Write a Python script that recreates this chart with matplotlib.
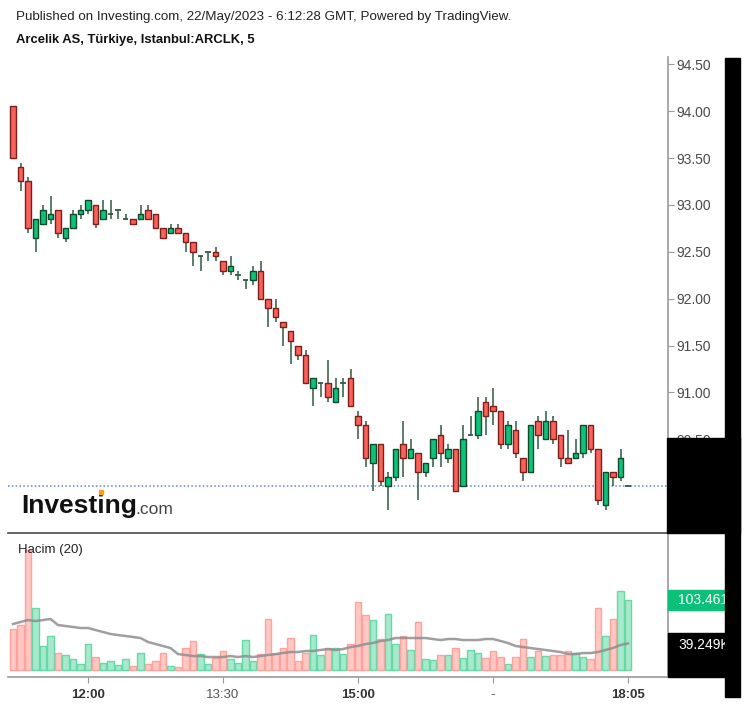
import numpy as np
import matplotlib.pyplot as plt
from matplotlib.patches import Rectangle

plt.rcParams['font.family'] = ['Liberation Sans', 'DejaVu Sans']

W, H = 747, 707

# 5-minute candles, ARCLK, 11:10 .. 18:05
opens = [94.05, 93.40, 93.25, 92.65, 92.80, 92.85, 92.95, 92.65, 92.75, 92.90,
         92.95, 93.00, 92.85, 92.90, 92.95, 92.85, 92.85, 92.85, 92.95, 92.90,
         92.75, 92.70, 92.75, 92.70, 92.60, 92.45, 92.50, 92.50, 92.40, 92.30,
         92.25, 92.20, 92.20, 92.30, 92.00, 91.90, 91.75, 91.65, 91.50, 91.40,
         91.05, 91.10, 91.10, 90.90, 91.10, 91.15, 90.75, 90.65, 90.25, 90.45,
         90.00, 90.10, 90.45, 90.30, 90.35, 90.15, 90.30, 90.55, 90.30, 90.40,
         90.00, 90.55, 90.55, 90.90, 90.85, 90.80, 90.45, 90.60, 90.30, 90.15,
         90.70, 90.50, 90.70, 90.55, 90.30, 90.30, 90.35, 90.65, 90.40, 89.80,
         90.15, 90.10, 90.00]
highs = [94.05, 93.45, 93.30, 92.85, 93.00, 93.10, 92.95, 92.75, 92.95, 93.00,
         93.05, 93.00, 93.05, 93.05, 92.95, 92.90, 92.85, 93.00, 93.00, 92.90,
         92.75, 92.80, 92.80, 92.70, 92.60, 92.45, 92.50, 92.55, 92.40, 92.45,
         92.30, 92.20, 92.35, 92.40, 92.00, 92.00, 91.75, 91.65, 91.50, 91.45,
         91.15, 91.10, 91.35, 91.15, 91.15, 91.25, 90.80, 90.70, 90.45, 90.45,
         90.15, 90.40, 90.70, 90.50, 90.35, 90.25, 90.50, 90.65, 90.45, 90.40,
         90.65, 90.75, 90.95, 90.95, 91.05, 90.80, 90.70, 90.70, 90.30, 90.65,
         90.75, 90.80, 90.75, 90.55, 90.60, 90.50, 90.65, 90.65, 90.40, 90.15,
         90.15, 90.40, 90.00]
lows = [93.50, 93.15, 92.70, 92.50, 92.80, 92.80, 92.65, 92.60, 92.75, 92.85,
        92.90, 92.75, 92.85, 92.85, 92.85, 92.85, 92.80, 92.85, 92.85, 92.75,
        92.65, 92.70, 92.70, 92.50, 92.35, 92.30, 92.40, 92.40, 92.25, 92.25,
        92.20, 92.10, 92.15, 92.00, 91.70, 91.75, 91.50, 91.30, 91.35, 91.10,
        90.85, 90.95, 90.90, 90.90, 90.95, 90.85, 90.50, 90.20, 89.95, 90.00,
        89.75, 90.05, 90.10, 90.30, 89.85, 90.10, 90.20, 90.20, 90.25, 89.95,
        90.00, 90.55, 90.50, 90.55, 90.65, 90.40, 90.40, 90.30, 90.05, 90.15,
        90.40, 90.50, 90.45, 90.20, 90.25, 90.30, 90.30, 90.35, 89.80, 89.75,
        90.00, 90.05, 90.00]
closes = [93.50, 93.25, 92.75, 92.85, 92.95, 92.90, 92.70, 92.75, 92.90, 92.95,
          93.05, 92.80, 92.95, 92.90, 92.95, 92.85, 92.80, 92.90, 92.85, 92.75,
          92.65, 92.75, 92.70, 92.60, 92.50, 92.45, 92.50, 92.45, 92.30, 92.35,
          92.25, 92.20, 92.30, 92.00, 91.90, 91.80, 91.70, 91.55, 91.40, 91.10,
          91.15, 91.10, 90.95, 91.05, 91.10, 90.85, 90.65, 90.30, 90.45, 90.05,
          90.10, 90.40, 90.30, 90.40, 90.15, 90.25, 90.50, 90.35, 90.40, 89.95,
          90.50, 90.55, 90.80, 90.75, 90.80, 90.45, 90.65, 90.35, 90.15, 90.65,
          90.55, 90.70, 90.50, 90.30, 90.25, 90.35, 90.65, 90.40, 89.85, 90.15,
          90.10, 90.30, 90.00]
# volume, thousands
volumes = [60.6, 66.5, 177.4, 91.6, 35.5, 50.3, 25.1, 22.2, 16.3, 8.9,
           38.4, 19.2, 10.3, 13.3, 7.4, 16.3, 5.9, 25.1, 8.9, 13.3,
           25.1, 5.9, 4.4, 32.5, 42.9, 23.6, 8.9, 17.7, 28.1, 16.3,
           10.3, 44.3, 13.3, 23.6, 75.4, 23.6, 32.5, 47.3, 13.3, 25.1,
           51.7, 22.2, 32.5, 32.5, 23.6, 38.4, 100.5, 81.3, 73.9, 45.8,
           82.8, 38.4, 50.3, 29.6, 70.9, 16.3, 14.8, 22.2, 22.2, 32.5,
           17.7, 29.6, 25.1, 17.7, 28.1, 19.2, 8.9, 19.2, 45.8, 19.2,
           28.1, 20.7, 22.2, 22.2, 28.1, 25.1, 19.2, 16.3, 91.6, 50.3,
           75.4, 116.8, 103.5]
# 20-period volume average, thousands
vol_ma = [68.0, 70.9, 73.9, 72.4, 73.9, 75.4, 66.5, 65.0, 63.6, 62.1,
          62.1, 59.1, 56.2, 53.2, 51.7, 50.3, 48.8, 47.3, 41.4, 38.4,
          35.5, 32.5, 23.6, 22.2, 20.7, 20.7, 19.2, 19.2, 19.2, 20.7,
          19.2, 20.7, 19.2, 20.7, 22.2, 23.6, 25.1, 26.6, 26.6, 28.1,
          28.1, 29.6, 31.0, 29.6, 31.0, 34.0, 35.5, 38.4, 39.9, 42.9,
          44.3, 47.3, 47.3, 47.3, 47.3, 47.3, 45.8, 44.3, 45.8, 45.8,
          44.3, 44.3, 44.3, 45.8, 45.8, 42.9, 39.9, 35.5, 34.0, 32.5,
          31.0, 29.6, 28.1, 26.6, 23.6, 23.6, 25.1, 25.1, 26.6, 29.6,
          32.5, 37.0, 39.25]

price_ticks = [94.5, 94.0, 93.5, 93.0, 92.5, 92.0, 91.5, 91.0, 90.5]
tick_pos = [10, 28, 46, 64, 82]
tick_labels = ['12:00', '13:30', '15:00', '-', '18:05']
tick_bold = [True, False, True, False, True]
last_price = 90.00
last_vol_label = '103.461K'
last_ma_label = '39.249K'

UP, DOWN = '#0fc27b', '#f9625a'
UP_EDGE, DOWN_EDGE = '#0c4a2a', '#7a1f1a'
WICK = '#2f5a40'
VUP, VDOWN = '#a7e9cc', '#ffc8c4'
VUP_EDGE, VDOWN_EDGE = '#66d9a6', '#ffa29c'


def px_axes(fig, x0, y0, x1, y1):
    return fig.add_axes([x0 / W, 1 - y1 / H, (x1 - x0) / W, (y1 - y0) / H])


def box(fig, x0, y0, x1, y1, color, z=10):
    fig.patches.append(Rectangle((x0 / W, 1 - y1 / H), (x1 - x0) / W, (y1 - y0) / H,
                                 transform=fig.transFigure, color=color, zorder=z))


def main():
    fig = plt.figure(figsize=(W / 100, H / 100), dpi=100)

    x = np.arange(len(closes))
    o, h, l, c = map(np.array, (opens, highs, lows, closes))
    up = c >= o

    ax = px_axes(fig, 8, 57, 668, 533)
    ax.set_xlim(-0.667, 87.33)
    ax.set_ylim(89.50, 94.578)
    ax.vlines(x, l, h, color=WICK, lw=1.1, zorder=2)
    body = np.abs(c - o) > 1e-9
    ax.bar(x[body], np.abs(c - o)[body], bottom=np.minimum(o, c)[body], width=0.68,
           color=np.where(up, UP, DOWN)[body], edgecolor=np.where(up, UP_EDGE, DOWN_EDGE)[body],
           lw=1.0, zorder=3)
    ax.hlines(c[~body], x[~body] - 0.36, x[~body] + 0.36, color=WICK, lw=1.3, zorder=3)
    ax.axhline(last_price, color='#5b82ef', lw=1.1, ls=(0, (1, 1.5)), zorder=1)

    for s in ('left', 'top'):
        ax.spines[s].set_visible(False)
    ax.spines['right'].set_color('#9a9a9a')
    ax.spines['right'].set_linewidth(1.2)
    ax.spines['bottom'].set_color('#4a4a4a')
    ax.spines['bottom'].set_linewidth(1.2)
    ax.set_xticks([])
    ax.yaxis.tick_right()
    ax.set_yticks(price_ticks)
    ax.set_yticklabels(['%.2f' % p for p in price_ticks])
    ax.tick_params(axis='y', length=4, color='#9a9a9a', labelcolor='#4a4a4a',
                   labelsize=10, pad=2)

    axv = px_axes(fig, 8, 535, 668, 677)
    axv.set_xlim(-0.667, 87.33)
    axv.set_ylim(-10.3, 199.5)
    axv.bar(x, volumes, width=0.9, color=np.where(up, VUP, VDOWN),
            edgecolor=np.where(up, VUP_EDGE, VDOWN_EDGE), lw=1.0, zorder=2)
    axv.plot(x, vol_ma, color='#8e8e8e', lw=1.8, alpha=0.85, zorder=3)
    for s in ('left', 'top'):
        axv.spines[s].set_visible(False)
    for s in ('right', 'bottom'):
        axv.spines[s].set_color('#9a9a9a')
        axv.spines[s].set_linewidth(1.2)
    axv.set_yticks([])
    axv.set_xticks(tick_pos)
    axv.set_xticklabels(tick_labels)
    axv.tick_params(axis='x', length=4, color='#9a9a9a', labelsize=9.5, pad=5)
    for lab, bold in zip(axv.get_xticklabels(), tick_bold):
        lab.set_fontweight('bold' if bold else 'normal')
        lab.set_color('#333333' if bold else '#555555')

    fig.text(16 / W, 1 - 17 / H,
             'Published on Investing.com, 22/May/2023 - 6:12:28 GMT, Powered by TradingView.',
             fontsize=9.6, color='#222222', va='center')
    fig.text(16 / W, 1 - 40 / H, 'Arcelik AS, Türkiye, Istanbul:ARCLK, 5',
             fontsize=9.4, fontweight='bold', color='#111111', va='center')
    fig.text(18 / W, 1 - 550 / H, 'Hacim (20)', fontsize=9.5, color='#222222', va='center')

    fig.text(21 / W, 1 - 506 / H, 'Investing', fontsize=19, fontweight='bold',
             color='#111111', va='center')
    fig.text(135 / W, 1 - 509 / H, '.com', fontsize=12.5, color='#444444', va='center')
    box(fig, 99, 490, 103, 494, '#f5a21b')

    # value labels on the volume scale
    box(fig, 668, 590, 725, 610, '#0bc078')
    fig.text(678 / W, 1 - 600 / H, last_vol_label, fontsize=10, color='white',
             va='center', zorder=11)
    box(fig, 668, 633, 725, 677, '#000000')
    fig.text(678 / W, 1 - 645 / H, last_ma_label, fontsize=10, color='white',
             va='center', zorder=11)

    # masked areas
    box(fig, 667, 438, 740, 533, '#000000', z=12)
    box(fig, 725, 58, 740, 697, '#000000', z=12)

    fig.savefig('out.png', dpi=100, facecolor='white')


if __name__ == '__main__':
    main()
